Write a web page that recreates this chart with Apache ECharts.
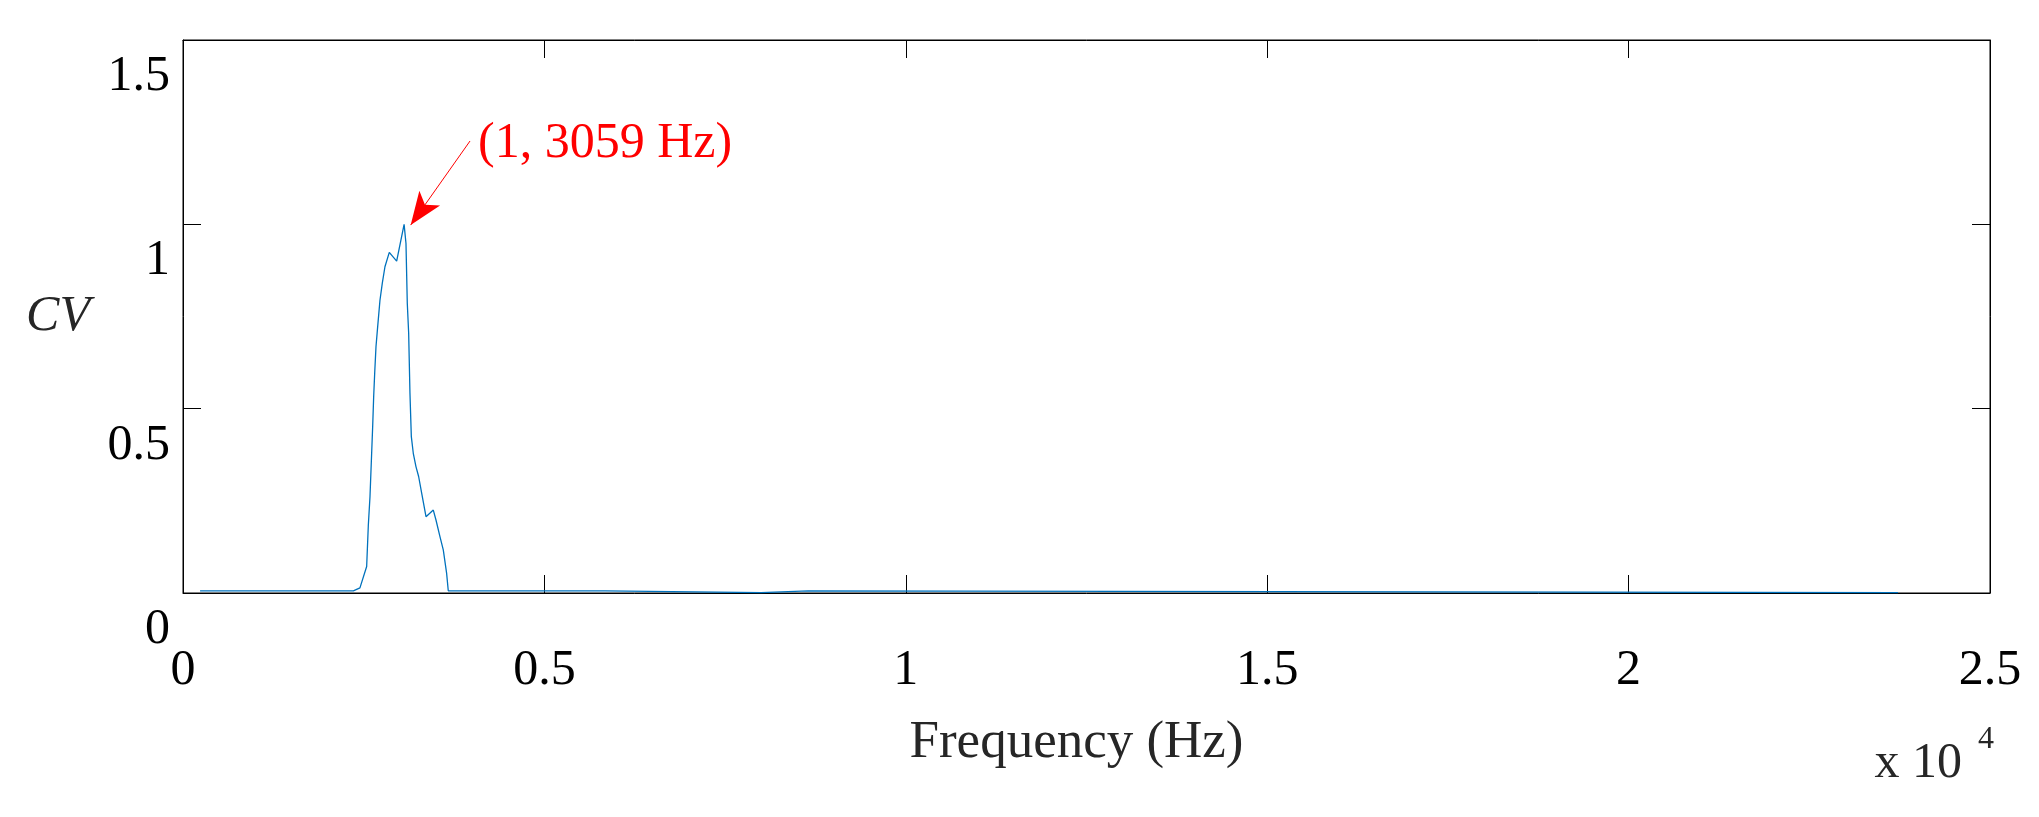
<!DOCTYPE html>
<html>
<head>
<meta charset="utf-8">
<script src="https://cdn.jsdelivr.net/npm/echarts@6/dist/echarts.min.js"></script>
<style>
html,body{margin:0;padding:0;background:#fff;}
#chart{width:2039px;height:817px;}
</style>
</head>
<body>
<div id="chart"></div>
<script>
// Frequency (Hz) and CV values
var freq = [236, 2357, 2448, 2541, 2564, 2587, 2610, 2624, 2638, 2652, 2670, 2693, 2725, 2757, 2794, 2854, 2956, 3059,
  3085, 3103, 3122, 3140, 3159, 3186, 3223, 3260, 3302, 3362, 3463, 3500, 3555, 3601, 3647, 3670,
  5840, 5860, 7997, 8010, 8650, 8670, 23727];
var cv = [0.006, 0.006, 0.014, 0.072, 0.184, 0.261, 0.379, 0.451, 0.533, 0.596, 0.668, 0.722, 0.794, 0.840, 0.885, 0.924, 0.900, 1.0,
  0.948, 0.786, 0.705, 0.542, 0.424, 0.379, 0.343, 0.316, 0.271, 0.207, 0.225, 0.198, 0.153, 0.117, 0.054, 0.006,
  0.006, 0.001, 0.001, 0.006, 0.006, 0.001, 0.001];
var xTicks = [0, 5000, 10000, 15000, 20000, 25000];
var yTicks = [0, 0.5, 1, 1.5];
var annoText = '(1, 3059 Hz)';
var annoTextAt = [4081, 1.218];
var annoTail = [3971, 1.226];
var annoHead = [3150, 0.998];

var FONT = 'Liberation Serif';
var chart = echarts.init(document.getElementById('chart'));
var data = freq.map(function (f, i) { return [f, cv[i]]; });

var tickStyle = { show: true, inside: true, length: 18, lineStyle: { color: '#000', width: 1 } };
var lineStyleAxis = { show: true, onZero: false, lineStyle: { color: '#000', width: 1 } };

chart.setOption({
  animation: false,
  backgroundColor: '#fff',
  grid: { left: 183, top: 40, width: 1807, height: 553, show: true, borderColor: '#000', borderWidth: 1 },
  xAxis: [{
    type: 'value', min: xTicks[0], max: xTicks[xTicks.length - 1], interval: 5000,
    position: 'bottom',
    axisLine: lineStyleAxis, axisTick: tickStyle, splitLine: { show: false },
    axisLabel: {
      margin: 78, verticalAlign: 'middle', color: '#000', fontFamily: FONT, fontSize: 50,
      formatter: function (v) { return String(v / 10000); }
    },
    name: 'Frequency (Hz)', nameLocation: 'middle', nameGap: 150,
    nameTextStyle: { color: '#262626', fontFamily: FONT, fontSize: 53, verticalAlign: 'middle', padding: [0, 20, 0, 0] }
  }, {
    type: 'value', min: xTicks[0], max: xTicks[xTicks.length - 1], interval: 5000,
    position: 'top',
    axisLine: lineStyleAxis, axisTick: tickStyle, splitLine: { show: false },
    axisLabel: { show: false }
  }],
  yAxis: [{
    type: 'value', min: yTicks[0], max: yTicks[yTicks.length - 1], interval: 0.5,
    position: 'left',
    axisLine: lineStyleAxis, axisTick: tickStyle, splitLine: { show: false },
    axisLabel: {
      margin: 13, verticalAlign: 'top', lineHeight: 74, color: '#000', fontFamily: FONT, fontSize: 50,
      formatter: function (v) { return String(v); }
    },
    name: 'CV', nameLocation: 'middle', nameGap: 93, nameRotate: 0,
    nameTextStyle: { color: '#262626', fontFamily: FONT, fontSize: 50, fontStyle: 'italic', align: 'right', verticalAlign: 'middle' }
  }, {
    type: 'value', min: yTicks[0], max: yTicks[yTicks.length - 1], interval: 0.5,
    position: 'right',
    axisLine: lineStyleAxis, axisTick: tickStyle, splitLine: { show: false },
    axisLabel: { show: false }
  }],
  graphic: [
    { type: 'text', right: 2039 - 1962, top: 764 - 25, style: { text: 'x 10', font: '50px "Liberation Serif"', fill: '#262626' } },
    { type: 'text', left: 1978, top: 740 - 16, style: { text: '4', font: '32px "Liberation Serif"', fill: '#262626' } }
  ],
  series: [{
    type: 'line',
    data: data,
    showSymbol: false,
    symbol: 'none',
    lineStyle: { color: '#0072BD', width: 1.3 },
    itemStyle: { color: '#0072BD' },
    markLine: {
      silent: true,
      animation: false,
      lineStyle: { color: '#ff0000', width: 1, type: 'solid' },
      label: { show: false },
      data: [[
        { coord: annoTail, symbol: 'none' },
        { coord: annoHead, symbol: 'arrow', symbolSize: [19, 33] }
      ]]
    },
    markPoint: {
      silent: true,
      animation: false,
      data: [{
        coord: annoTextAt, symbol: 'circle', symbolSize: 0,
        label: { show: true, position: 'right', distance: 0, formatter: annoText, color: '#ff0000', fontFamily: FONT, fontSize: 50 }
      }]
    }
  }]
});
</script>
</body>
</html>
